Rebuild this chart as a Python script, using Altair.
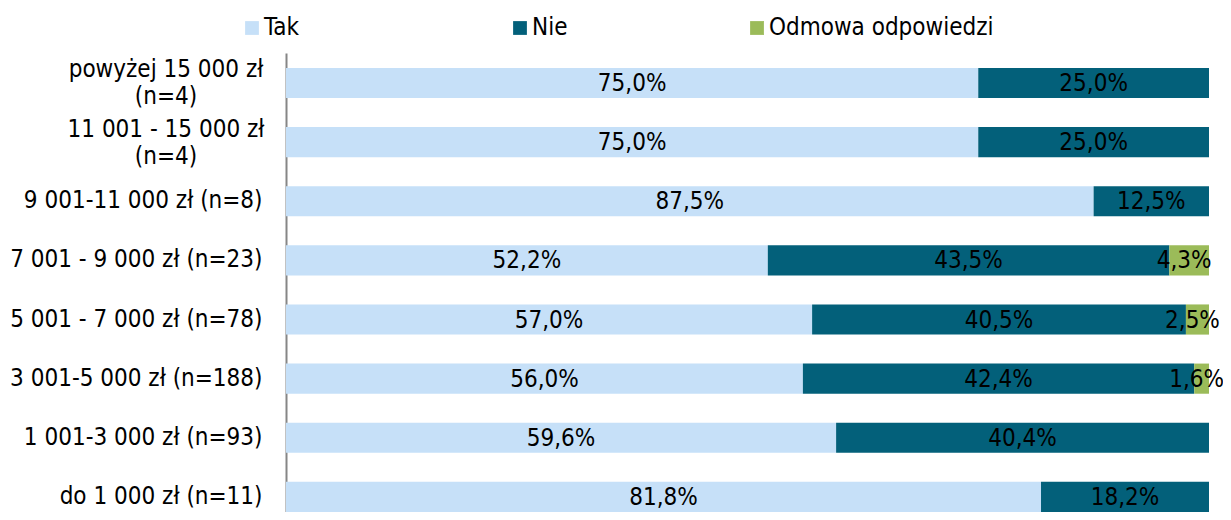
import altair as alt
import pandas as pd

categories = [
    "powyżej 15 000 zł\n(n=4)",
    "11 001 - 15 000 zł\n(n=4)",
    "9 001-11 000 zł (n=8)",
    "7 001 - 9 000 zł (n=23)",
    "5 001 - 7 000 zł (n=78)",
    "3 001-5 000 zł (n=188)",
    "1 001-3 000 zł (n=93)",
    "do 1 000 zł (n=11)",
]
series = ["Tak", "Nie", "Odmowa odpowiedzi"]
tak = [75.0, 75.0, 87.5, 52.2, 57.0, 56.0, 59.6, 81.8]
nie = [25.0, 25.0, 12.5, 43.5, 40.5, 42.4, 40.4, 18.2]
odmowa = [0.0, 0.0, 0.0, 4.3, 2.5, 1.6, 0.0, 0.0]
colors = ["#C6E0F8", "#03607A", "#9BBB59"]

rows = []
for i, c in enumerate(categories):
    for j, (s, vals) in enumerate(zip(series, [tak, nie, odmowa])):
        rows.append({"cat": c, "series": s, "idx": j, "value": vals[i],
                     "label": f"{vals[i]:.1f}%".replace(".", ",")})
df = pd.DataFrame(rows)

FONT = "DejaVu Sans Condensed"
FS = 24

base = alt.Chart(df).transform_stack(
    stack="value", groupby=["cat"], as_=["x0", "x1"], sort=[alt.SortField("idx")]
).transform_calculate(mid="(datum.x0 + datum.x1) / 2")

yscale = alt.Scale(paddingInner=0.49, paddingOuter=0.126, align=1)

yenc = alt.Y("cat:N", sort=categories, title=None, scale=yscale,
             axis=alt.Axis(labelExpr="indexof(datum.value, '\\n') >= 0 ? '' : datum.value",
                           labelFont=FONT, labelFontSize=FS, labelColor="#000000",
                           labelPadding=24, ticks=False, domainColor="#868686",
                           domainWidth=2, labelLimit=400))

bars = base.mark_bar().encode(
    x=alt.X("x0:Q", scale=alt.Scale(domain=[0, 100]), axis=None),
    x2="x1:Q",
    y=yenc,
    color=alt.Color("series:N", sort=series,
                    scale=alt.Scale(domain=series, range=colors),
                    legend=alt.Legend(title=None, orient="none", direction="horizontal",
                                      legendX=-46, legendY=-37, columnPadding=177,
                                      symbolType="square", symbolSize=190,
                                      symbolStrokeWidth=0, symbolOpacity=1,
                                      labelFont=FONT, labelFontSize=FS, labelLimit=500,
                                      labelExpr="datum.label == 'Tak' ? 'Tak\u2800\u2800' : datum.label",
                                      labelColor="#000000", labelOffset=0)),
)

texts = base.transform_filter("datum.value > 0 && datum.idx < 2").mark_text(
    font=FONT, fontSize=FS, color="#000000", baseline="middle", dy=1
).encode(
    x="mid:Q",
    y=alt.Y("cat:N", sort=categories),
    text="label:N",
)

texts_small = base.transform_filter("datum.value > 0 && datum.idx == 2").mark_text(
    font=FONT, fontSize=FS, color="#000000", baseline="middle", dy=1, dx=-5
).encode(
    x="mid:Q",
    y=alt.Y("cat:N", sort=categories),
    text="label:N",
)

two_line = alt.Chart(pd.DataFrame({"cat": [c for c in categories if "\n" in c]})).mark_text(
    font=FONT, fontSize=FS, color="#000000", align="center", baseline="middle",
    lineBreak="\n", lineHeight=27, dy=-12.5
).encode(
    x=alt.value(-120),
    y=alt.Y("cat:N", sort=categories),
    text="cat:N",
)

chart = alt.layer(bars, texts, texts_small, two_line).properties(
    width=923, height=459,
    padding={"left": 278, "top": 45, "right": 14, "bottom": 0},
    autosize=alt.AutoSizeParams(type="none"),
).configure_view(stroke=None)

chart.save("out.html", embed_options={"renderer": "svg", "actions": False})
